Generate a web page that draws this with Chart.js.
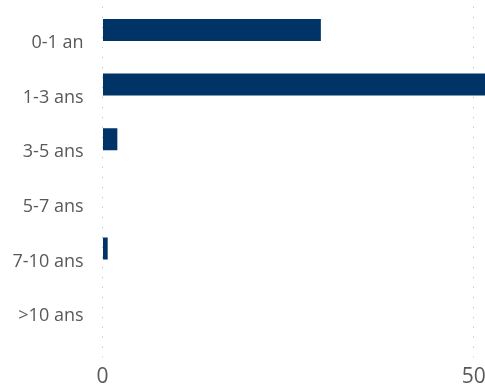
<!DOCTYPE html>
<html lang="fr">
<head>
    <meta charset="UTF-8">
    <title>Ancienneté</title>
    <script src="https://cdn.jsdelivr.net/npm/chart.js"></script>
    <style>
        html, body { margin: 0; padding: 0; background: #ffffff; }
        #wrap { width: 485px; height: 387px; }
    </style>
</head>
<body>
    <div id="wrap">
        <canvas id="ageChart" width="485" height="387"></canvas>
    </div>

    <script>
        // Tranches d'ancienneté et valeurs
        const categories = ['0-1 an', '1-3 ans', '3-5 ans', '5-7 ans', '7-10 ans', '>10 ans'];
        const values = [29.4, 53, 2, 0, 0.7, 0];
        const xTicks = [0, 50];

        const labelGrey = '#595959';
        const gridGrey = '#c8c8c8';

        new Chart(document.getElementById('ageChart'), {
            type: 'bar',
            data: {
                labels: categories,
                datasets: [{
                    data: values,
                    backgroundColor: '#003366',
                    borderWidth: 0,
                    categoryPercentage: 1,
                    barPercentage: 0.403
                }]
            },
            options: {
                indexAxis: 'y',
                responsive: false,
                devicePixelRatio: 1,
                animation: false,
                layout: { padding: { top: 2.7, right: 0, bottom: 0, left: 0 } },
                plugins: {
                    legend: { display: false },
                    tooltip: { enabled: false }
                },
                scales: {
                    x: {
                        min: 0,
                        max: 51.5,
                        afterBuildTicks: (scale) => {
                            scale.ticks = xTicks.map(v => ({ value: v }));
                        },
                        afterFit: (scale) => {
                            scale.height = 56.7;
                            scale.paddingLeft = 0;
                            scale.paddingRight = 0;
                        },
                        // pointillés verticaux, prolongés sous la zone par les graduations
                        border: { display: false, dash: [1.5, 8.5], dashOffset: 6 },
                        grid: {
                            color: gridGrey,
                            lineWidth: 1,
                            drawTicks: true,
                            tickLength: 27,
                            tickBorderDash: [1.5, 8.5],
                            tickBorderDashOffset: 3.6
                        },
                        ticks: {
                            color: labelGrey,
                            padding: 9.7,
                            maxRotation: 0,
                            font: { family: 'Open Sans', size: 21, lineHeight: '20px' }
                        }
                    },
                    y: {
                        afterFit: (scale) => {
                            scale.width = 102.5;
                            scale.paddingTop = 0;
                            scale.paddingBottom = 0;
                        },
                        border: { display: false },
                        grid: { display: false, drawTicks: false },
                        ticks: {
                            color: labelGrey,
                            padding: 19,
                            labelOffset: 13,
                            font: { family: 'Open Sans', size: 18 }
                        }
                    }
                }
            }
        });
    </script>
</body>
</html>
